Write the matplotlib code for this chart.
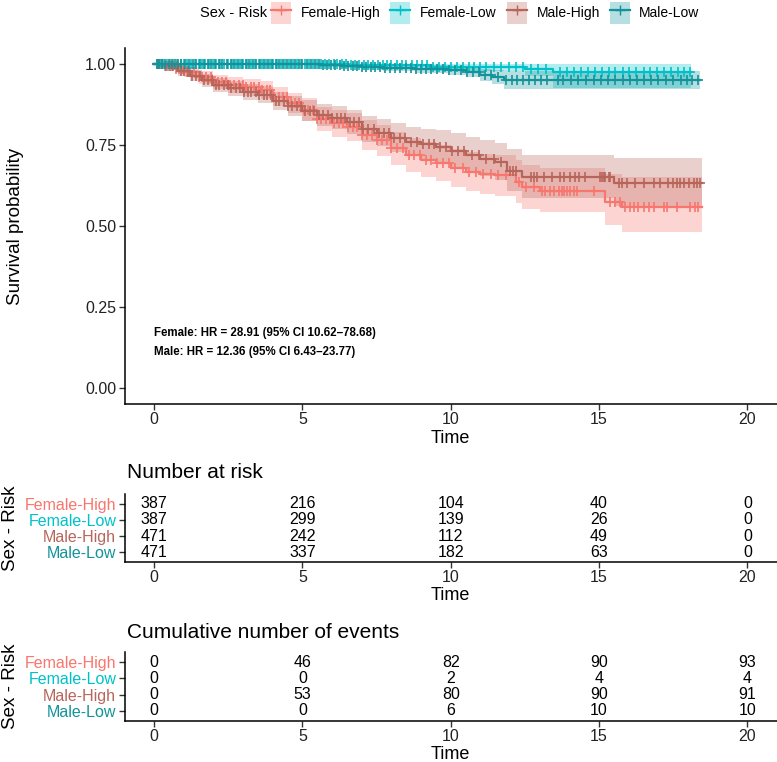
import matplotlib
matplotlib.use("Agg")
import matplotlib.pyplot as plt
from matplotlib.patches import Patch
from matplotlib.lines import Line2D
import numpy as np

plt.rcParams['font.family'] = ['Liberation Sans', 'DejaVu Sans']

# groups and colours
groups = ["Female-High", "Female-Low", "Male-High", "Male-Low"]
colors = ["#F8766D", "#00C1C9", "#B7655B", "#12939A"]

# Kaplan-Meier steps: time, survival, lower CI, upper CI
fh_time = [0, 0.3, 0.7, 1.0, 1.5, 2.0, 2.5, 3.0, 3.6, 4.0, 4.5, 5.0, 5.5, 6.0, 6.5, 7.0,
           7.5, 8.0, 8.5, 9.0, 9.5, 10.0, 10.5, 11.0, 11.5, 12.2, 12.4, 13.0, 15.2, 15.77]
fh_surv = [1.0, 0.995, 0.985, 0.975, 0.96, 0.945, 0.935, 0.928, 0.92, 0.90, 0.88, 0.858,
           0.83, 0.817, 0.805, 0.78, 0.765, 0.74, 0.72, 0.705, 0.695, 0.68, 0.668, 0.66,
           0.657, 0.637, 0.621, 0.608, 0.575, 0.56]
fh_low = [1.0, 0.988, 0.973, 0.96, 0.94, 0.922, 0.91, 0.901, 0.892, 0.87, 0.848, 0.823,
          0.792, 0.776, 0.762, 0.734, 0.717, 0.69, 0.668, 0.651, 0.639, 0.622, 0.608, 0.598,
          0.594, 0.57, 0.553, 0.544, 0.503, 0.482]
fh_up = [1.0, 1.0, 0.997, 0.99, 0.98, 0.968, 0.96, 0.955, 0.948, 0.93, 0.912, 0.894,
         0.869, 0.858, 0.848, 0.826, 0.813, 0.79, 0.772, 0.759, 0.751, 0.738, 0.728, 0.722,
         0.72, 0.704, 0.69, 0.68, 0.66, 0.65]
fh_end = 18.46

fl_time = [0, 6.5, 9.3, 12.5, 13.46]
fl_surv = [1.0, 0.997, 0.99, 0.984, 0.976]
fl_low = [1.0, 0.991, 0.978, 0.962, 0.925]
fl_up = [1.0, 1.0, 1.0, 1.0, 1.0]
fl_end = 18.1

mh_time = [0, 0.4, 0.8, 1.2, 1.6, 2.0, 2.5, 3.0, 3.5, 4.0, 4.5, 5.0, 5.5, 6.0, 6.5, 7.0,
           7.5, 8.0, 8.5, 9.0, 9.5, 10.0, 10.5, 11.0, 11.5, 11.9, 12.4, 15.49]
mh_surv = [1.0, 0.993, 0.978, 0.965, 0.95, 0.935, 0.925, 0.915, 0.905, 0.885, 0.87, 0.856,
           0.843, 0.835, 0.82, 0.80, 0.787, 0.772, 0.76, 0.752, 0.745, 0.732, 0.72, 0.708,
           0.698, 0.671, 0.65, 0.632]
mh_low = [1.0, 0.986, 0.965, 0.949, 0.931, 0.914, 0.902, 0.89, 0.879, 0.857, 0.84, 0.824,
          0.809, 0.80, 0.783, 0.761, 0.746, 0.729, 0.715, 0.705, 0.696, 0.681, 0.667, 0.653,
          0.641, 0.609, 0.585, 0.562]
mh_up = [1.0, 1.0, 0.991, 0.981, 0.969, 0.957, 0.948, 0.94, 0.932, 0.914, 0.901, 0.889,
         0.878, 0.871, 0.858, 0.841, 0.83, 0.817, 0.806, 0.80, 0.796, 0.786, 0.776, 0.766,
         0.758, 0.738, 0.719, 0.709]
mh_end = 18.46

ml_time = [0, 5.6, 6.3, 7.0, 7.7, 8.8, 9.9, 10.5, 11.0, 11.4, 11.8]
ml_surv = [1.0, 0.997, 0.994, 0.991, 0.988, 0.985, 0.981, 0.976, 0.966, 0.961, 0.951]
ml_low = [1.0, 0.99, 0.987, 0.982, 0.978, 0.972, 0.968, 0.96, 0.948, 0.94, 0.922]
ml_up = [1.0, 1.0, 1.0, 1.0, 0.999, 0.998, 0.995, 0.993, 0.986, 0.983, 0.98]
ml_end = 18.4

# censoring times (the "+" marks)
fh_cens = [0.12, 0.22, 0.35, 0.48, 0.6, 0.72, 0.85, 0.97, 1.1, 1.22, 1.35, 1.5, 1.62, 1.75,
           1.9, 2.02, 2.15, 2.3, 2.42, 2.55, 2.7, 2.85, 2.98, 3.1, 3.25, 3.38, 3.52, 3.65,
           3.8, 3.92, 4.05, 4.2, 4.35, 4.48, 4.6, 4.75, 4.9, 5.05, 5.2, 5.35, 5.5, 5.62, 5.78,
           5.92, 6.08, 6.22, 6.38, 6.55, 6.7, 6.85, 7.0, 7.18, 7.35, 7.5, 7.68, 7.85, 8.0,
           8.2, 8.4, 8.6, 8.75, 8.95, 9.15, 9.35, 9.55, 9.75, 9.95, 10.15, 10.4, 10.6, 10.85,
           11.1, 11.35, 11.6, 11.85, 12.3, 12.55, 12.8, 13.08, 13.19, 13.36, 13.47, 13.64,
           13.75, 13.81, 13.92, 14.03, 14.15, 14.26, 14.82, 15.38, 15.55, 15.72, 15.89, 16.05,
           16.17, 16.33, 16.5, 16.67, 16.84, 17.18, 17.29, 17.63, 18.07, 18.24, 18.35]
fl_cens = [0.1, 0.2, 0.3, 0.42, 0.55, 0.65, 0.78, 0.9, 1.0, 1.12, 1.25, 1.38, 1.5, 1.6,
           1.72, 1.85, 1.98, 2.1, 2.22, 2.35, 2.5, 2.62, 2.75, 2.88, 3.0, 3.12, 3.25, 3.4,
           3.52, 3.65, 3.78, 3.9, 4.02, 4.15, 4.28, 4.4, 4.55, 4.68, 4.8, 4.95, 5.08, 5.22,
           5.35, 5.5, 5.62, 5.75, 5.9, 6.05, 6.18, 6.32, 6.48, 6.62, 6.78, 6.92, 7.08, 7.22,
           7.38, 7.55, 7.7, 7.85, 8.0, 8.18, 8.35, 8.5, 8.68, 8.85, 9.02, 9.2, 9.4, 9.6, 9.8,
           10.0, 10.2, 10.4, 10.6, 10.8, 11.0, 11.2, 11.45, 11.7, 11.95, 12.2, 12.45, 12.7,
           12.95, 13.2, 13.7, 13.92, 14.15, 14.4, 14.62, 14.85, 15.1, 15.32, 15.55, 15.8,
           16.02, 16.25, 16.5, 16.72, 16.95, 17.2, 17.42, 17.65, 17.88, 18.05]
mh_cens = [0.15, 0.28, 0.4, 0.52, 0.65, 0.78, 0.9, 1.02, 1.15, 1.28, 1.42, 1.55, 1.68,
           1.8, 1.95, 2.08, 2.2, 2.35, 2.48, 2.6, 2.75, 2.88, 3.02, 3.15, 3.28, 3.42, 3.55,
           3.7, 3.82, 3.95, 4.1, 4.22, 4.38, 4.52, 4.65, 4.8, 4.95, 5.1, 5.25, 5.4, 5.55,
           5.7, 5.85, 6.0, 6.15, 6.3, 6.45, 6.6, 6.75, 6.9, 7.05, 7.22, 7.4, 7.58, 7.75, 7.92,
           8.1, 8.28, 8.45, 8.65, 8.85, 9.05, 9.25, 9.45, 9.65, 9.85, 10.05, 10.25, 10.45,
           10.7, 10.95, 11.2, 11.45, 11.7, 12.0, 12.1, 12.2, 12.69, 12.8, 12.91, 13.14,
           13.42, 13.7, 13.81, 14.03, 14.2, 14.31, 14.54, 15.04, 15.1, 15.16, 15.21, 15.32,
           15.38, 15.66, 15.77, 15.94, 16.22, 16.5, 16.84, 17.06, 17.34, 17.51, 17.63, 17.74,
           17.85, 18.02, 18.19, 18.3, 18.39]
ml_cens = [0.08, 0.18, 0.28, 0.38, 0.5, 0.6, 0.7, 0.82, 0.92, 1.05, 1.18, 1.3, 1.42, 1.55,
           1.68, 1.8, 1.92, 2.05, 2.18, 2.3, 2.45, 2.58, 2.7, 2.82, 2.95, 3.08, 3.2, 3.32,
           3.45, 3.58, 3.72, 3.85, 3.98, 4.1, 4.22, 4.35, 4.48, 4.62, 4.75, 4.88, 5.0, 5.15,
           5.28, 5.42, 5.55, 5.7, 5.82, 5.95, 6.1, 6.25, 6.4, 6.55, 6.7, 6.85, 7.0, 7.15,
           7.3, 7.45, 7.6, 7.78, 7.95, 8.12, 8.3, 8.48, 8.65, 8.82, 9.0, 9.18, 9.35, 9.55,
           9.75, 9.95, 10.15, 10.35, 10.55, 10.75, 10.95, 11.15, 11.35, 11.6, 11.85, 12.05,
           12.25, 12.45, 12.65, 12.85, 13.05, 13.25, 13.6, 13.8, 14.05, 14.3, 14.55, 14.82,
           15.05, 15.3, 15.55, 15.8, 16.05, 16.28, 16.5, 16.75, 17.0, 17.25, 17.5, 17.75,
           17.95, 18.15, 18.32]

# tables
table_times = [0, 5, 10, 15, 20]
n_risk = {"Female-High": [387, 216, 104, 40, 0],
          "Female-Low": [387, 299, 139, 26, 0],
          "Male-High": [471, 242, 112, 49, 0],
          "Male-Low": [471, 337, 182, 63, 0]}
n_events = {"Female-High": [0, 46, 82, 90, 93],
            "Female-Low": [0, 0, 2, 4, 4],
            "Male-High": [0, 53, 80, 90, 91],
            "Male-Low": [0, 0, 6, 10, 10]}

hr_lines = ["Female: HR = 28.91 (95% CI 10.62\u201378.68)",
            "Male: HR = 12.36 (95% CI 6.43\u201323.77)"]

curves = [(fh_time, fh_surv, fh_low, fh_up, fh_end, fh_cens),
          (fl_time, fl_surv, fl_low, fl_up, fl_end, fl_cens),
          (mh_time, mh_surv, mh_low, mh_up, mh_end, mh_cens),
          (ml_time, ml_surv, ml_low, ml_up, ml_end, ml_cens)]

W, H = 777, 762
fig = plt.figure(figsize=(W / 100, H / 100), dpi=100)

def fig_axes(left, top, right, bottom):
    # pixel box -> figure fraction
    return fig.add_axes([left / W, 1 - bottom / H, (right - left) / W, (bottom - top) / H])

AX_LEFT, AX_W = 124.5, 777 - 124.5
ax = fig_axes(AX_LEFT, 48, 777, 404)
ax_risk = fig_axes(AX_LEFT, 494, 777, 562)
ax_ev = fig_axes(AX_LEFT, 652, 777, 721)

# --- survival curves
for (t, s, lo, up, end, cens), col in zip(curves, colors):
    tt = np.append(t, end)
    ax.fill_between(tt, np.append(lo, lo[-1]), np.append(up, up[-1]), step='post',
                    color=col, alpha=0.3, linewidth=0)
for (t, s, lo, up, end, cens), col in zip(curves, colors):
    tt = np.append(t, end)
    ss = np.append(s, s[-1])
    ax.step(tt, ss, where='post', color=col, lw=1.6)
    idx = np.searchsorted(t, cens, side='right') - 1
    ax.plot(cens, np.array(s)[idx], linestyle='none', marker='+', ms=6.5, mew=1.2, color=col)

ax.set_xlim(-1, 21)
ax.set_ylim(-0.05, 1.05)
ax.set_xticks(table_times)
ax.set_yticks([0, 0.25, 0.5, 0.75, 1.0])
ax.set_yticklabels(["0.00", "0.25", "0.50", "0.75", "1.00"])
ax.set_xlabel("Time", fontsize=13, labelpad=2)
ax.set_ylabel("Survival probability", fontsize=13.5)
# label coords give the right edge of the rotated label
ax.yaxis.set_label_coords((24 - AX_LEFT) / AX_W, 0.5)
for i, line in enumerate(hr_lines):
    ax.text(0, 0.17 - i * 0.058, line, fontsize=8.3, fontweight='bold', va='center')

# legend across the top
handles = [(Patch(facecolor=c, alpha=0.3, edgecolor='none'),
            Line2D([], [], color=c, lw=1.6, marker='+', ms=7)) for c in colors]
fig.text(200 / W, 1 - 13 / H, "Sex - Risk", fontsize=10.5, va='center', ha='left')
fig.legend(handles, groups, loc='center left', bbox_to_anchor=(271 / W, 1 - 13 / H),
           ncol=4, frameon=False, fontsize=10, handlelength=1.45, handleheight=2.0,
           handletextpad=0.7, columnspacing=0.7, borderaxespad=0, borderpad=0)

# --- tables
def draw_table(a, values, title, title_y):
    for row, g in enumerate(groups):
        for x, v in zip(table_times, values[g]):
            a.text(x, row, str(v), ha='center', va='center', fontsize=11.5)
    a.set_xlim(-1, 21)
    a.set_ylim(3.62, -0.62)
    a.set_xticks(table_times)
    a.set_yticks(range(len(groups)))
    a.set_yticklabels(groups)
    a.set_xlabel("Time", fontsize=13, labelpad=1)
    a.set_ylabel("Sex - Risk", fontsize=13.5)
    a.yaxis.set_label_coords((19 - AX_LEFT) / AX_W, 0.5)
    fig.text(127 / W, 1 - title_y / H, title, fontsize=15, va='center', ha='left')

draw_table(ax_risk, n_risk, "Number at risk", 473)
draw_table(ax_ev, n_events, "Cumulative number of events", 632)

for a in (ax, ax_risk, ax_ev):
    for side in ("top", "right"):
        a.spines[side].set_visible(False)
    for side in ("left", "bottom"):
        a.spines[side].set_linewidth(1.1)
    a.tick_params(axis='both', labelsize=11.5, length=4, width=1.0, color='#333333',
                  labelcolor='#222222', pad=2)
for a in (ax_risk, ax_ev):
    for lab, c in zip(a.get_yticklabels(), colors):
        lab.set_color(c)

fig.savefig("out.png", dpi=100)
